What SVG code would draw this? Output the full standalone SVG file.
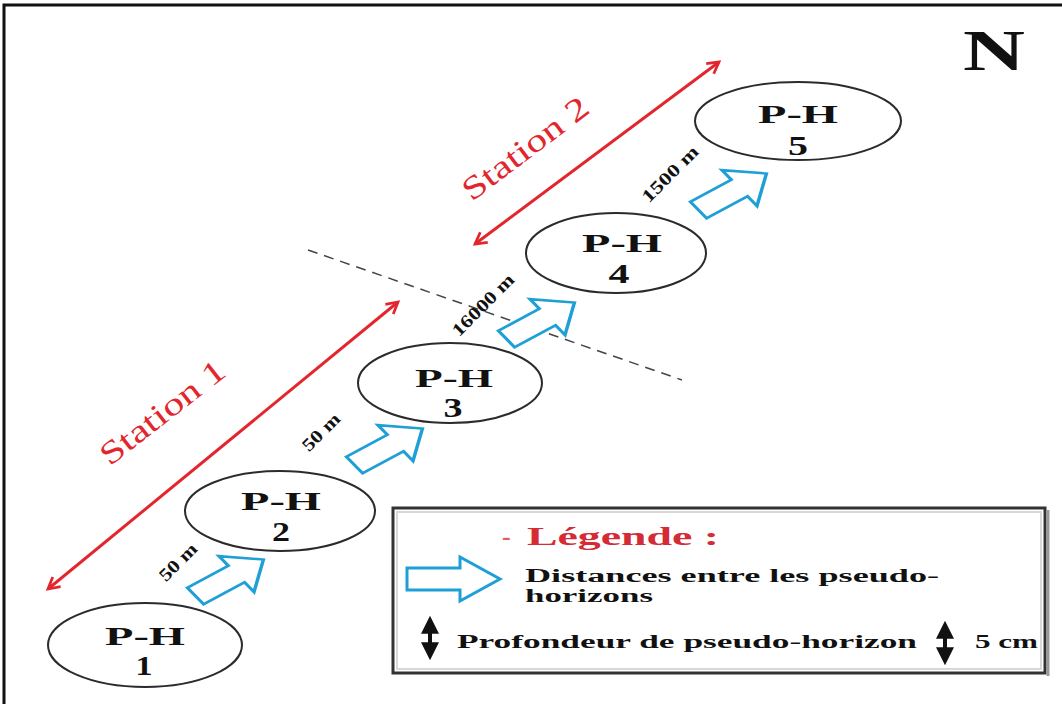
<svg xmlns="http://www.w3.org/2000/svg" width="1062" height="704" viewBox="0 0 1062 704">
  <style>
    .ph { fill: #ffffff; stroke: #2b2b2b; stroke-width: 2; }
    .lbl { font-family: "Liberation Serif", "Times New Roman", serif; font-weight: bold; fill: #111; }
    .red { stroke: #e3262d; stroke-width: 3; fill: none; }
    .stn { font-family: "Liberation Serif", "Times New Roman", serif; fill: #e3262d; }
    .flow { fill: #ffffff; stroke: #1e9fd6; stroke-width: 3; stroke-linejoin: miter; }
    .dist { font-family: "Liberation Serif", "Times New Roman", serif; font-weight: bold; font-size: 18px; fill: #111; }
    .leg { font-family: "Liberation Serif", "Times New Roman", serif; font-weight: bold; fill: #111; }
    .depth { stroke: #111; stroke-width: 4; fill: none; }
  </style>
  <defs>
    <marker id="redHead" viewBox="0 0 12 12" refX="10" refY="6" markerWidth="5" markerHeight="5" orient="auto-start-reverse" markerUnits="strokeWidth">
      <path d="M1,1 L10,6 L1,11" fill="none" stroke="#e3262d" stroke-width="2.2"/>
    </marker>
    <marker id="blackHead" viewBox="0 0 10 10" refX="6" refY="5" markerWidth="4.5" markerHeight="4.5" orient="auto-start-reverse" markerUnits="strokeWidth">
      <path d="M0,0 L10,5 L0,10 Z" fill="#111"/>
    </marker>
    <!-- hollow block arrow, centred on the origin, pointing along +x -->
    <polygon id="blockArrow" points="-36,-12 8,-12 8,-26 37,0 8,26 8,12 -36,12"/>
  </defs>

  <rect width="1062" height="704" fill="#ffffff"/>
  <!-- outer frame -->
  <path d="M4,704 V5 H1062" fill="none" stroke="#111" stroke-width="3"/>

  <!-- north mark -->
  <text class="lbl" x="963" y="70" font-size="56" textLength="62" lengthAdjust="spacingAndGlyphs">N</text>

  <!-- connectors: station spans, boundary, distance arrows -->
  <g id="connectors">
    <line class="red" x1="48" y1="589" x2="398" y2="302" marker-start="url(#redHead)" marker-end="url(#redHead)"/>
    <line class="red" x1="475" y1="244" x2="719" y2="62" marker-start="url(#redHead)" marker-end="url(#redHead)"/>
    <line x1="308" y1="250" x2="682" y2="380" stroke="#444" stroke-width="1.5" stroke-dasharray="10 7"/>

    <use href="#blockArrow" class="flow" transform="translate(229,578) scale(1.15,0.85) rotate(-36)"/>
    <use href="#blockArrow" class="flow" transform="translate(388,447) scale(1.15,0.85) rotate(-36)"/>
    <use href="#blockArrow" class="flow" transform="translate(540,321) scale(1.15,0.85) rotate(-36)"/>
    <use href="#blockArrow" class="flow" transform="translate(732,192) scale(1.15,0.85) rotate(-36)"/>

    <text class="dist" transform="translate(178,562) rotate(-45)" text-anchor="middle" dy="6" textLength="46" lengthAdjust="spacingAndGlyphs">50 m</text>
    <text class="dist" transform="translate(321,432) rotate(-45)" text-anchor="middle" dy="6" textLength="46" lengthAdjust="spacingAndGlyphs">50 m</text>
    <text class="dist" transform="translate(483,305) rotate(-45)" text-anchor="middle" dy="6" textLength="80" lengthAdjust="spacingAndGlyphs">16000 m</text>
    <text class="dist" transform="translate(670,174) rotate(-45)" text-anchor="middle" dy="6" textLength="72" lengthAdjust="spacingAndGlyphs">1500 m</text>

    <text class="stn" font-size="32" transform="translate(162,412) rotate(-38)" text-anchor="middle" dy="11" textLength="150" lengthAdjust="spacingAndGlyphs">Station 1</text>
    <text class="stn" font-size="32" transform="translate(525,148) rotate(-37)" text-anchor="middle" dy="11" textLength="150" lengthAdjust="spacingAndGlyphs">Station 2</text>
  </g>

  <!-- pseudo-horizons -->
  <g id="ph1">
    <ellipse class="ph" cx="145" cy="645" rx="97" ry="42"/>
    <text class="lbl" x="145" y="645" font-size="26" text-anchor="middle" textLength="80" lengthAdjust="spacingAndGlyphs">P-H</text>
    <text class="lbl" x="144" y="675" font-size="27" text-anchor="middle" textLength="17" lengthAdjust="spacingAndGlyphs">1</text>
  </g>
  <g id="ph2">
    <ellipse class="ph" cx="280" cy="511" rx="95" ry="40"/>
    <text class="lbl" x="281" y="510" font-size="26" text-anchor="middle" textLength="80" lengthAdjust="spacingAndGlyphs">P-H</text>
    <text class="lbl" x="281" y="541" font-size="27" text-anchor="middle" textLength="18" lengthAdjust="spacingAndGlyphs">2</text>
  </g>
  <g id="ph3">
    <ellipse class="ph" cx="450" cy="383" rx="92" ry="40"/>
    <text class="lbl" x="454" y="387" font-size="26" text-anchor="middle" textLength="78" lengthAdjust="spacingAndGlyphs">P-H</text>
    <text class="lbl" x="453" y="417" font-size="27" text-anchor="middle" textLength="19" lengthAdjust="spacingAndGlyphs">3</text>
  </g>
  <g id="ph4">
    <ellipse class="ph" cx="616" cy="253" rx="90" ry="40"/>
    <text class="lbl" x="622" y="252" font-size="26" text-anchor="middle" textLength="80" lengthAdjust="spacingAndGlyphs">P-H</text>
    <text class="lbl" x="619" y="283" font-size="27" text-anchor="middle" textLength="21" lengthAdjust="spacingAndGlyphs">4</text>
  </g>
  <g id="ph5">
    <ellipse class="ph" cx="798" cy="121" rx="103" ry="39" stroke="#111" stroke-width="2.5"/>
    <text class="lbl" x="798" y="123" font-size="26" text-anchor="middle" textLength="80" lengthAdjust="spacingAndGlyphs">P-H</text>
    <text class="lbl" x="798" y="155" font-size="27" text-anchor="middle" textLength="20" lengthAdjust="spacingAndGlyphs">5</text>
  </g>

  <!-- legend -->
  <g id="legend">
    <rect x="393" y="508" width="652" height="165" fill="#ffffff" stroke="#333" stroke-width="3"/>
    <rect x="397" y="512" width="644" height="157" fill="none" stroke="#d8d8d8" stroke-width="2"/>
    <line x1="1048" y1="510" x2="1048" y2="676" stroke="#999" stroke-width="3"/>
    <text x="502" y="545" font-family="Liberation Serif, serif" font-weight="bold" font-size="26" fill="#e35a62">-</text>
    <text x="527" y="545" font-family="Liberation Serif, serif" font-weight="bold" font-size="26" fill="#d42b35" textLength="192" lengthAdjust="spacingAndGlyphs">Légende :</text>
    <polygon class="flow" points="407,568 460,568 460,557 500,579 460,601 460,590 407,590"/>
    <text class="leg" x="525" y="582" font-size="18" textLength="414" lengthAdjust="spacingAndGlyphs">Distances entre les pseudo-</text>
    <text class="leg" x="525" y="602" font-size="18" textLength="128" lengthAdjust="spacingAndGlyphs">horizons</text>
    <line class="depth" x1="430" y1="623" x2="430" y2="653" marker-start="url(#blackHead)" marker-end="url(#blackHead)"/>
    <text class="leg" x="457" y="648" font-size="19" textLength="460" lengthAdjust="spacingAndGlyphs">Profondeur de pseudo-horizon</text>
    <line class="depth" x1="945" y1="628" x2="945" y2="658" marker-start="url(#blackHead)" marker-end="url(#blackHead)"/>
    <text class="leg" x="975" y="648" font-size="19" textLength="63" lengthAdjust="spacingAndGlyphs">5 cm</text>
  </g>
</svg>
